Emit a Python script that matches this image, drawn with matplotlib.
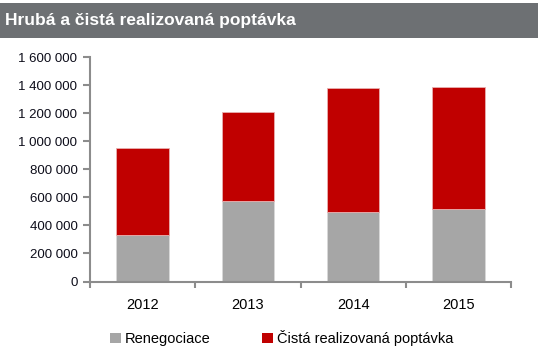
import matplotlib
matplotlib.use("Agg")
import matplotlib.pyplot as plt
from matplotlib.patches import Rectangle, Patch
from matplotlib import font_manager
from matplotlib.ticker import FuncFormatter

years = ["2012", "2013", "2014", "2015"]
renegociace = [330000, 575000, 495000, 515000]
cista = [620000, 635000, 883000, 875000]
title = "Hrubá a čistá realizovaná poptávka"
series_names = ["Renegociace", "Čistá realizovaná poptávka"]

names = {f.name for f in font_manager.fontManager.ttflist}
narrow = "Liberation Sans Narrow" if "Liberation Sans Narrow" in names else "Liberation Sans"
plt.rcParams['font.family'] = ["Liberation Sans", "DejaVu Sans"]

W, H = 538, 355
fig = plt.figure(figsize=(W / 100, H / 100), dpi=100)

# header band
fig.patches.append(Rectangle((0, 1 - 38 / H), 1, 35 / H, transform=fig.transFigure,
                             facecolor="#6d7073", edgecolor="none", zorder=0))
title_size = 15.5 if narrow != "Liberation Sans" else 12.5
fig.text(5 / W, 1 - 21 / H, title, color="white", fontsize=title_size, fontweight="bold",
         family=[narrow, "DejaVu Sans"], va="center", ha="left")

ax = fig.add_axes([90 / W, 1 - 281.5 / H, (511 - 90) / W, (281.5 - 57.3) / H])
x = list(range(len(years)))
gray = "#a6a6a6"
red = "#c00000"
ax.bar(x, renegociace, width=0.5, color=gray, edgecolor="#d9d9d9", linewidth=0.6, zorder=2)
ax.bar(x, cista, width=0.5, bottom=renegociace, color=red, edgecolor="#e8b0b0", linewidth=0.6, zorder=2)

ax.set_xlim(-0.5, len(years) - 0.5)
ax.set_ylim(0, 1600000)
ax.set_yticks(range(0, 1600001, 200000))
ax.yaxis.set_major_formatter(FuncFormatter(lambda v, p: f"{int(v):,}".replace(",", " ")))
ax.set_xticks([i - 0.5 for i in range(len(years) + 1)])
ax.set_xticklabels([])
ax.set_xticks(x, minor=True)
ax.set_xticklabels(years, minor=True)
ax.tick_params(axis="x", which="minor", length=0, pad=12, labelsize=10.5)
ax.tick_params(axis="x", which="major", length=4, width=1.5, color="#8c8c8c", direction="out")
ax.tick_params(axis="y", length=5, width=1.5, color="#8c8c8c", labelsize=9.5, pad=4,
               labelcolor="#0d0d1a")
for s in ["top", "right"]:
    ax.spines[s].set_visible(False)
for s in ["left", "bottom"]:
    ax.spines[s].set_color("#8c8c8c")
    ax.spines[s].set_linewidth(1.5)

handles = [Patch(facecolor=gray, edgecolor="none"), Patch(facecolor=red, edgecolor="none")]
fig.legend(handles, series_names, loc="center left", bbox_to_anchor=(104 / W, 1 - 338 / H),
           ncol=2, frameon=False, fontsize=10.5, handlelength=0.75, handleheight=0.75,
           handletextpad=0.3, columnspacing=3.5, borderaxespad=0)

fig.savefig("out.png", dpi=100)
